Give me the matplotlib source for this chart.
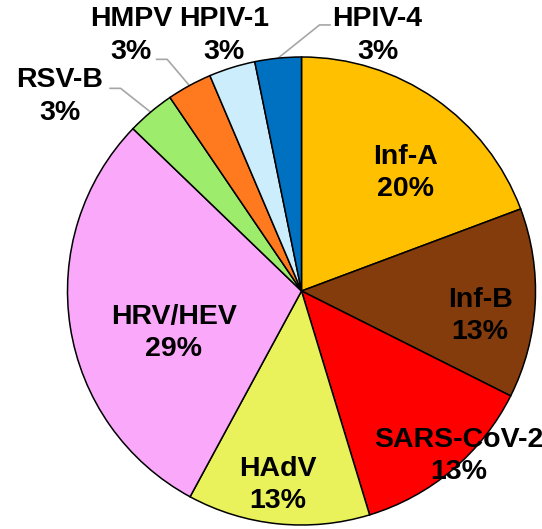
#import necessary libraries
import numpy as np
import matplotlib.pyplot as plt

#virus share data
viruses = ['Inf-A', 'Inf-B', 'SARS-CoV-2', 'HAdV', 'HRV/HEV', 'RSV-B', 'HMPV', 'HPIV-1', 'HPIV-4']
shares = [19.3, 13.1, 12.9, 12.6, 29.3, 3.3, 3.1, 3.2, 3.2]
pct_labels = [20, 13, 13, 13, 29, 3, 3, 3, 3]
colors = ['#FFC000', '#843C0C', '#FF0000', '#EAF25B', '#FAA9FA',
          '#9DEC6B', '#FF7A1F', '#CCEDFB', '#0070C0']

#label centres in data units (pie radius = 1)
label_pos = {'Inf-A': (0.445, 0.504), 'Inf-B': (0.763, -0.107),
             'SARS-CoV-2': (0.671, -0.705), 'HAdV': (-0.100, -0.829),
             'HRV/HEV': (-0.545, -0.179), 'RSV-B': (-1.034, 0.831),
             'HMPV': (-0.729, 1.092), 'HPIV-1': (-0.331, 1.092),
             'HPIV-4': (0.325, 1.092)}
#start of grey leader lines next to the outside labels
leader_start = {'RSV-B': (-0.818, 0.866), 'HMPV': (-0.619, 0.990), 'HPIV-4': (0.122, 1.137)}

fig = plt.figure(figsize=(5.42, 5.29), dpi=100)
ax = fig.add_axes([0, 0, 1, 1])
wedges, _ = ax.pie(shares, colors=colors, startangle=90, counterclock=False,
                   wedgeprops=dict(edgecolor='black', linewidth=1.1))

for w, name, pct in zip(wedges, viruses, pct_labels):
    x, y = label_pos[name]
    ax.text(x, y, f'{name}\n{pct}%', ha='center', va='center', fontsize=20.5,
            fontweight='bold', family='Liberation Sans', linespacing=1.32)
    if name in leader_start:
        ang = np.deg2rad((w.theta1 + w.theta2) / 2)
        sx, sy = leader_start[name]
        ex, ey = np.cos(ang), np.sin(ang)
        kx = sx + 0.045 * np.sign(ex - sx)
        ax.plot([sx, kx, ex], [sy, sy, ey], color='#A6A6A6', lw=1.2, zorder=0.5)

ax.set_xlim(-301.5 / 234, (542 - 301.5) / 234)
ax.set_ylim((291 - 529) / 234, 291 / 234)
ax.set_aspect('auto')
ax.axis('off')

plt.savefig('out.png', dpi=100)
